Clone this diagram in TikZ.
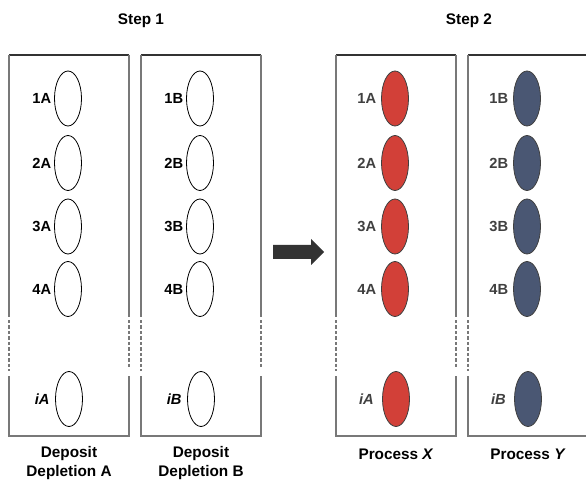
\documentclass[tikz,border=0pt]{standalone}
\usepackage{fontspec}
\setmainfont{Liberation Sans}
\usetikzlibrary{shapes.geometric, positioning}
\definecolor{depred}{RGB}{210, 64, 56}
\definecolor{depblue}{RGB}{74, 87, 115}
\definecolor{framedark}{RGB}{50, 50, 50}
\definecolor{framegray}{RGB}{120, 120, 120}
\definecolor{labgray}{RGB}{64, 64, 64}
\definecolor{arrowdark}{RGB}{51, 51, 51}

\begin{document}
\begin{tikzpicture}[
    x=0.75pt, y=-0.75pt,
    well/.style={ellipse, draw=#1, line width=0.6pt, minimum width=20.25pt,
        minimum height=41.25pt, inner sep=0pt},
    well/.default=black,
    tag/.style={font=\fontsize{11}{13}\selectfont\bfseries, inner sep=1pt},
    heading/.style={font=\fontsize{11.5}{14.25}\selectfont\bfseries, align=center},
    side/.style={draw=framegray, line width=0.8pt},
    cut/.style={draw=framegray, line width=0.8pt, dash pattern=on 2.6pt off 1.5pt}
]
\useasboundingbox (0,0) rectangle (586,481);

% Frames of the four columns
\foreach \bx in {9, 141, 336, 468} {
    \draw[framedark, line width=0.8pt] (\bx,55) -- (\bx+120,55);
    \draw[side] (\bx,55) -- (\bx,317);
    \draw[side] (\bx+120,55) -- (\bx+120,317);
    \draw[cut] (\bx,320) -- (\bx,371);
    \draw[cut] (\bx+120,320) -- (\bx+120,369);
    \draw[side] (\bx,376) -- (\bx,436) -- (\bx+120,436) -- (\bx+120,376);
}

% Step 1: empty deposits
\foreach \n/\yy in {1/98.5, 2/163, 3/226.5, 4/289} {
    \node[well] (a\n) at (68,\yy) {};
    \node[tag, left=1pt of a\n] (la\n) {\n A};
    \node[well] (b\n) at (200,\yy) {};
    \node[tag, left=1pt of b\n] (lb\n) {\n B};
}
\node[well] (ai) at (69,399) {};
\node[tag, left=3pt of ai] (lai) {\textit{iA}};
\node[well] (bi) at (201,399) {};
\node[tag, left=3pt of bi] (lbi) {\textit{iB}};

% Step 2: processed deposits
\foreach \n/\yy in {1/98.5, 2/163, 3/226.5, 4/289} {
    \node[well=labgray, fill=depred] (x\n) at (395,\yy) {};
    \node[tag, text=labgray, left=2.5pt of x\n] (lx\n) {\n A};
    \node[well=labgray, fill=depblue] (y\n) at (527,\yy) {};
    \node[tag, text=labgray, left=2.5pt of y\n] (ly\n) {\n B};
}
\node[well=labgray, fill=depred] (xi) at (396,399) {};
\node[tag, text=labgray, left=5pt of xi] (lxi) {\textit{iA}};
\node[well=labgray, fill=depblue] (yi) at (528,399) {};
\node[tag, text=labgray, left=5pt of yi] (lyi) {\textit{iB}};

% Block arrow between the steps
\fill[arrowdark] (273,245) -- (311,245) -- (311,239) -- (324,252)
    -- (311,265) -- (311,259) -- (273,259) -- cycle;

% Titles
\node[heading] (step1) at (141,21) {Step 1};
\node[heading] (step2) at (469,21) {Step 2};

% Column captions
\node[heading] (capa) at (69,463.5) {Deposit\\Depletion A};
\node[heading] (capb) at (201,463.5) {Deposit\\Depletion B};
\node[heading] (capx) at (396,454) {Process \textit{X}};
\node[heading] (capy) at (528,454) {Process \textit{Y}};

\end{tikzpicture}
\end{document}
